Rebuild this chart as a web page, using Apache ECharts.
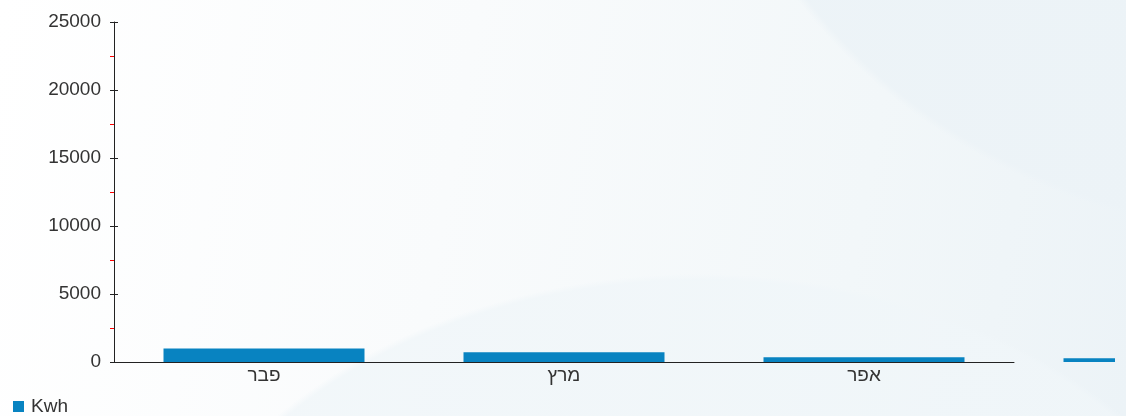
<!DOCTYPE html>
<html><head><meta charset="utf-8">
<script src="https://cdn.jsdelivr.net/npm/echarts@6/dist/echarts.min.js"></script>
<style>
html,body{margin:0;padding:0;width:1126px;height:416px;overflow:hidden;
background:
 radial-gradient(ellipse 900px 700px at 1350px -250px, rgba(236,243,247,0.9) 0%, rgba(236,243,247,0.9) 70%, rgba(236,243,247,0) 71%),
 radial-gradient(ellipse 800px 600px at 700px 700px, rgba(240,246,249,0.8) 0%, rgba(240,246,249,0.8) 70%, rgba(240,246,249,0) 71%),
 linear-gradient(100deg,#ffffff 0%,#f9fbfc 40%,#f2f7f9 75%,#ecf3f7 100%);}
#c{width:1115px;height:416px;}
</style></head><body>
<div id="c"></div>
<script>
var categories = ['פבר','מרץ','אפר','מאי'];
var kwh = [1000, 710, 345, 270];
var yTicks = {min:0, max:25000, interval:5000};

var chart = echarts.init(document.getElementById('c'));
var font = 'Liberation Sans, Arial, sans-serif';
chart.setOption({
  animation:false,
  textStyle:{fontFamily:font},
  grid:{left:114, right:101, top:22, bottom:54},
  legend:{show:true, left:8, top:392, padding:5, itemWidth:11, itemHeight:11, itemGap:4,
    icon:'rect', textStyle:{fontSize:19, color:'#333', fontFamily:font, padding:[0,0,0,2]}, data:['Kwh']},
  xAxis:{type:'category', data:categories, max:2,
    axisLine:{lineStyle:{color:'#222', width:1}},
    axisTick:{alignWithLabel:true, length:4, lineStyle:{color:'#222'}},
    axisLabel:{color:'#333', fontSize:19, margin:4, fontFamily:font},
    splitLine:{show:false}},
  yAxis:[{type:'value', min:yTicks.min, max:yTicks.max, interval:yTicks.interval,
    axisLine:{show:true, lineStyle:{color:'#222', width:1}},
    axisTick:{show:true, length:4, lineStyle:{color:'#222'}},
    minorTick:{show:true, splitNumber:2, length:4, lineStyle:{color:'#ff0000'}},
    axisLabel:{color:'#333', fontSize:19, margin:13, fontFamily:font,
      formatter:function(v){return String(v);}},
    splitLine:{show:false}},
   {type:'value', position:'left', min:yTicks.min, max:yTicks.max, interval:yTicks.interval,
    axisLine:{show:false}, axisTick:{show:true, inside:true, length:4, lineStyle:{color:'#222'}},
    axisLabel:{show:false}, splitLine:{show:false}}],
  series:[{name:'Kwh', type:'bar', data:kwh, clip:false, barCategoryGap:'33%',
    itemStyle:{color:'#0883c1'}}]
});
</script></body></html>
